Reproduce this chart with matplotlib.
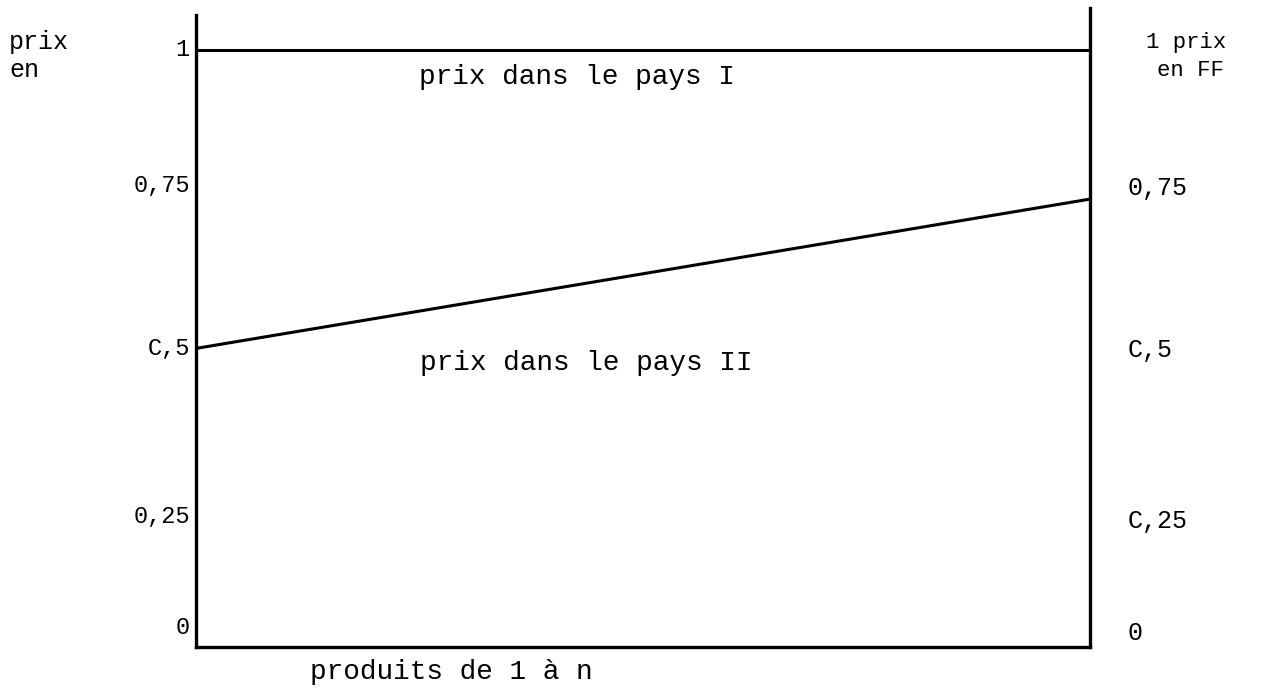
import matplotlib.pyplot as plt

# data
x = [0, 1]
pays_1 = [1.0, 1.0]
pays_2 = [0.5, 0.75]
left_labels = ['1', '0,75', 'C,5', '0,25', '0']
left_pos = [1.0, 0.772, 0.50, 0.219, 0.032]
right_labels = ['0,75', 'C,5', 'C,25', '0']
right_pos = [0.769, 0.497, 0.211, 0.023]

plt.rcParams['font.family'] = ['Liberation Mono', 'DejaVu Sans Mono']

fig = plt.figure(figsize=(12.63, 6.89), dpi=100)
ax = fig.add_axes([196/1263, 1 - 647/689, 894/1263, 639/689])
ax.set_xlim(0, 1)
ax.set_ylim(0, 1.07)

ax.plot(x, pays_1, color='black', lw=2.2, solid_capstyle='butt')
ax.plot(x, pays_2, color='black', lw=2.2, solid_capstyle='butt')

ax.spines['top'].set_visible(False)
for s in ['left', 'right', 'bottom']:
    ax.spines[s].set_linewidth(2.4)
ax.spines['left'].set_bounds(0, 1.058)
ax.spines['right'].set_bounds(0, 1.07)
ax.set_xticks([])
ax.set_yticks([])

# tick labels typed by hand
for lab, v in zip(left_labels, left_pos):
    ax.text(-0.007, v, lab, ha='right', va='center', fontsize=17)
for lab, v in zip(right_labels, right_pos):
    ax.text(1.042, v, lab, ha='left', va='center', fontsize=18)

ax.text(1.063, 1.013, '1 prix', ha='left', va='center', fontsize=16)
ax.text(1.075, 0.966, 'en FF', ha='left', va='center', fontsize=16)
ax.text(-0.209, 1.013, 'prix', ha='left', va='center', fontsize=18)
ax.text(-0.209, 0.966, 'en', ha='left', va='center', fontsize=18)

ax.text(0.426, 0.955, 'prix dans le pays I', ha='center', va='center', fontsize=20)
ax.text(0.437, 0.476, 'prix dans le pays II', ha='center', va='center', fontsize=20)
ax.text(0.286, -0.042, 'produits de 1 à n', ha='center', va='center', fontsize=20)

fig.savefig('out.png', dpi=100)
